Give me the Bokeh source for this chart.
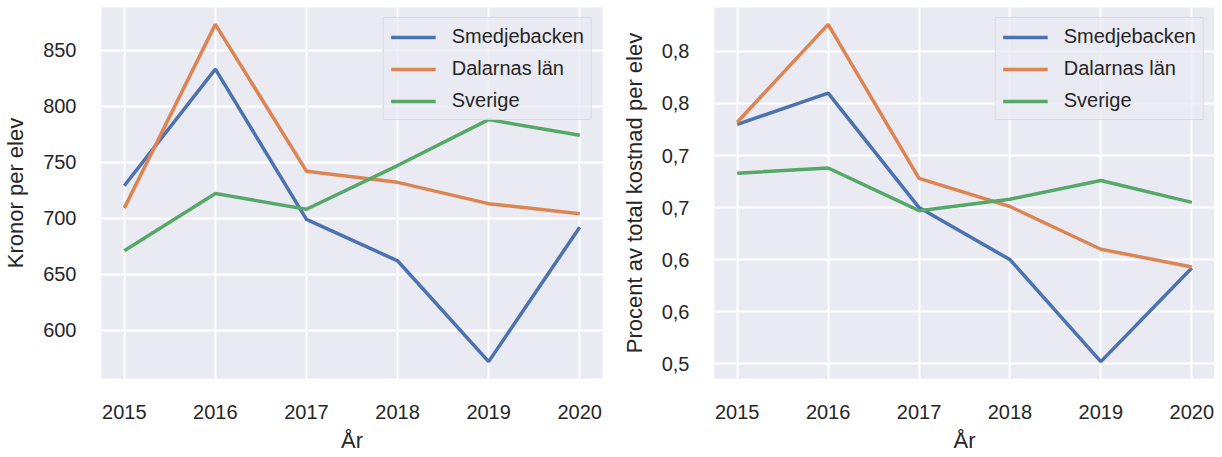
from bokeh.plotting import figure
from bokeh.layouts import row
from bokeh.models import FixedTicker, Legend, LegendItem, Range1d
from bokeh.embed import file_html
from bokeh.resources import INLINE

# ---- data ----
years = [2015, 2016, 2017, 2018, 2019, 2020]
series_names = ["Smedjebacken", "Dalarnas län", "Sverige"]

kronor_smedjebacken = [729, 833, 699, 662, 572, 692]
kronor_dalarna = [709, 873, 742, 732, 713, 704]
kronor_sverige = [671, 722, 708, 747, 788, 774]

procent_smedjebacken = [0.730, 0.760, 0.650, 0.600, 0.502, 0.592]
procent_dalarna = [0.732, 0.826, 0.678, 0.651, 0.610, 0.593]
procent_sverige = [0.683, 0.688, 0.647, 0.658, 0.676, 0.655]

left_yticks = [600, 650, 700, 750, 800, 850]
right_yticks = [0.50, 0.55, 0.60, 0.65, 0.70, 0.75, 0.80]
right_ytick_labels = ["0,5", "0,6", "0,6", "0,7", "0,7", "0,8", "0,8"]

xlabel = "År"
left_ylabel = "Kronor per elev"
right_ylabel = "Procent av total kostnad per elev"

colors = ["#4C72B0", "#DD8452", "#55A868"]
FONT = "Liberation Sans"
TXT = "#262626"


def padded(vals, frac=0.05):
    lo, hi = min(vals), max(vals)
    m = (hi - lo) * frac
    return lo - m, hi + m


def make_fig(series, yticks, ylabel, width, border_left, border_right, overrides=None):
    allv = [v for s in series for v in s]
    y0, y1 = padded(allv)
    x0, x1 = padded(years)
    p = figure(width=width, height=455, output_backend="svg", toolbar_location=None,
               x_range=Range1d(x0, x1), y_range=Range1d(y0, y1),
               min_border_left=border_left, min_border_right=border_right,
               min_border_top=7, min_border_bottom=64)
    p.background_fill_color = "#EAEAF2"
    p.border_fill_color = "white"
    p.outline_line_color = None

    p.xaxis.ticker = FixedTicker(ticks=years)
    p.yaxis.ticker = FixedTicker(ticks=yticks)
    if overrides is not None:
        p.yaxis.major_label_overrides = {t: l for t, l in zip(yticks, overrides)}

    for ax in (p.xaxis[0], p.yaxis[0]):
        ax.axis_line_color = None
        ax.major_tick_line_color = None
        ax.minor_tick_line_color = None
        ax.major_tick_out = 0
        ax.major_tick_in = 0
        ax.major_label_text_font = FONT
        ax.major_label_text_font_size = "20px"
        ax.major_label_text_color = TXT
        ax.axis_label_text_font = FONT
        ax.axis_label_text_font_size = "22px"
        ax.axis_label_text_font_style = "normal"
        ax.axis_label_text_color = TXT
    p.xaxis.major_label_standoff = 26
    p.yaxis.major_label_standoff = 25
    p.xaxis.axis_label_standoff = 6
    p.yaxis.axis_label_standoff = 12
    p.xaxis.axis_label = xlabel
    p.yaxis.axis_label = ylabel

    p.xgrid.grid_line_color = "white"
    p.ygrid.grid_line_color = "white"
    p.xgrid.grid_line_width = 2
    p.ygrid.grid_line_width = 2

    items = []
    for name, vals, c in zip(series_names, series, colors):
        r = p.line(years, vals, line_color=c, line_width=3.5)
        items.append(LegendItem(label=name, renderers=[r]))

    legend = Legend(items=items, location="top_right")
    legend.margin = 10
    legend.padding = 7
    legend.spacing = 9
    legend.glyph_width = 45
    legend.glyph_height = 22
    legend.label_height = 22
    legend.label_standoff = 16
    legend.label_text_font = FONT
    legend.label_text_font_size = "20px"
    legend.label_text_color = TXT
    legend.background_fill_color = "#EAEAF2"
    legend.background_fill_alpha = 0.8
    legend.border_line_color = "#CCCCCC"
    legend.border_line_width = 1
    p.add_layout(legend)
    return p


p1 = make_fig([kronor_smedjebacken, kronor_dalarna, kronor_sverige], left_yticks,
              left_ylabel, 608, 99, 6)
p2 = make_fig([procent_smedjebacken, procent_dalarna, procent_sverige], right_yticks,
              right_ylabel, 606, 106, 0, overrides=right_ytick_labels)

layout = row(p1, p2)
open("out.html", "w").write(file_html(layout, INLINE))
